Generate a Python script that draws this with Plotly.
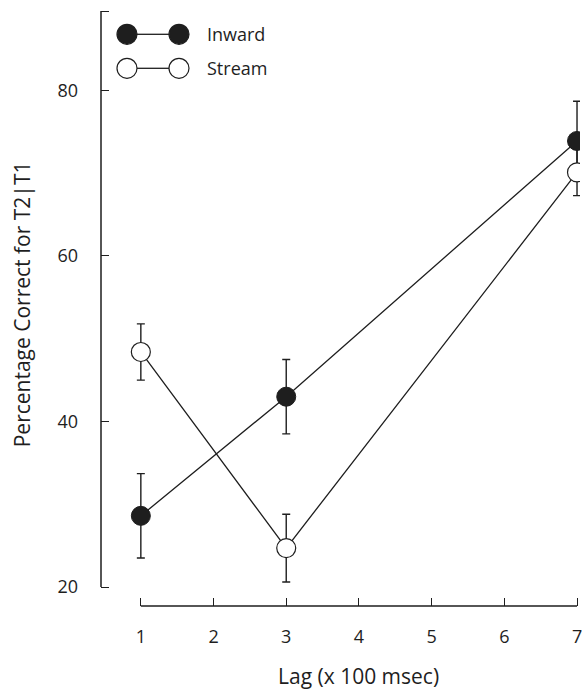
import plotly.graph_objects as go

lags = [1, 3, 7]
inward = [28.6, 43.0, 73.9]
inward_err = [5.1, 4.5, 4.8]
stream = [48.4, 24.7, 70.1]
stream_err = [3.4, 4.1, 2.8]

y_ticks = [20, 40, 60, 80]
x_ticks = [1, 2, 3, 4, 5, 6, 7]
series_names = ["Inward", "Stream"]

INK = "#1e1e1e"
FONT = "Open Sans"
FS = 18
TITLE_FS = 21

fig = go.Figure()
fig.add_trace(go.Scatter(
    x=lags, y=inward, mode="lines+markers", name=series_names[0],
    line=dict(color=INK, width=1.3),
    marker=dict(size=19, color=INK, line=dict(color=INK, width=1)),
    error_y=dict(type="data", array=inward_err, color=INK, thickness=1.4, width=4),
))
fig.add_trace(go.Scatter(
    x=lags, y=stream, mode="lines+markers", name=series_names[1],
    line=dict(color=INK, width=1.3),
    marker=dict(size=19, color="white", line=dict(color=INK, width=1.2)),
    error_y=dict(type="data", array=stream_err, color=INK, thickness=1.4, width=4),
))

y_top = 89.6
shapes = [
    dict(type="line", xref="paper", x0=0, x1=0, yref="y", y0=y_ticks[0], y1=y_top,
         line=dict(color=INK, width=1.5)),
    dict(type="line", xref="x", x0=x_ticks[0], x1=x_ticks[-1], yref="paper", y0=0, y1=0,
         line=dict(color=INK, width=1.5)),
]

# legend glyphs (two circles joined by a line), in pixels from plot's top-left
rows = [(-29.3, INK), (-63.3, "white")]
for (yc, fill), name in zip(rows, series_names):
    shapes.append(dict(type="line", xref="paper", xsizemode="pixel", xanchor=0,
                       x0=36, x1=68, yref="paper", ysizemode="pixel", yanchor=1,
                       y0=yc, y1=yc, line=dict(color=INK, width=1.3)))
    for cx in (26, 78):
        shapes.append(dict(type="circle", xref="paper", xsizemode="pixel", xanchor=0,
                           x0=cx - 10, x1=cx + 10, yref="paper", ysizemode="pixel",
                           yanchor=1, y0=yc - 10, y1=yc + 10,
                           fillcolor=fill, line=dict(color=INK, width=1.2)))

annotations = []
for (yc, _), name in zip(rows, series_names):
    annotations.append(dict(text=name, xref="paper", x=0, xshift=104, xanchor="left",
                            yref="paper", y=1, yshift=yc, yanchor="middle",
                            showarrow=False, font=dict(family=FONT, size=FS, color=INK)))
annotations.append(dict(text="Percentage Correct for T2|T1", xref="paper", x=0, xshift=-79,
                        yref="paper", y=0.502, textangle=-90, showarrow=False,
                        xanchor="center", yanchor="middle",
                        font=dict(family=FONT, size=TITLE_FS, color=INK)))
annotations.append(dict(text="Lag (x 100 msec)", xref="x", x=4, yref="paper", y=0,
                        yshift=-70, yanchor="middle", showarrow=False,
                        font=dict(family=FONT, size=TITLE_FS, color=INK)))

fig.update_layout(
    width=582, height=691,
    margin=dict(l=101, r=0, t=5, b=85),
    paper_bgcolor="white", plot_bgcolor="white",
    showlegend=False,
    font=dict(family=FONT, size=FS, color=INK),
    shapes=shapes, annotations=annotations,
    xaxis=dict(range=[0.452, 7.041], tickvals=x_ticks, ticks="inside", ticklen=8,
               tickwidth=1.4, tickcolor=INK, showline=False, showgrid=False,
               zeroline=False, ticklabelstandoff=18, ticklabeloverflow="allow"),
    yaxis=dict(range=[17.704, 90.33], tickvals=y_ticks + [y_top],
               ticktext=[str(v) for v in y_ticks] + [""], ticks="inside", ticklen=8,
               tickwidth=1.4, tickcolor=INK, showline=False, showgrid=False,
               zeroline=False, ticklabelstandoff=22),
)

fig.write_html("out.html", config={"displayModeBar": False},
               post_script="document.body.style.margin='0';document.body.style.overflow='hidden';")
